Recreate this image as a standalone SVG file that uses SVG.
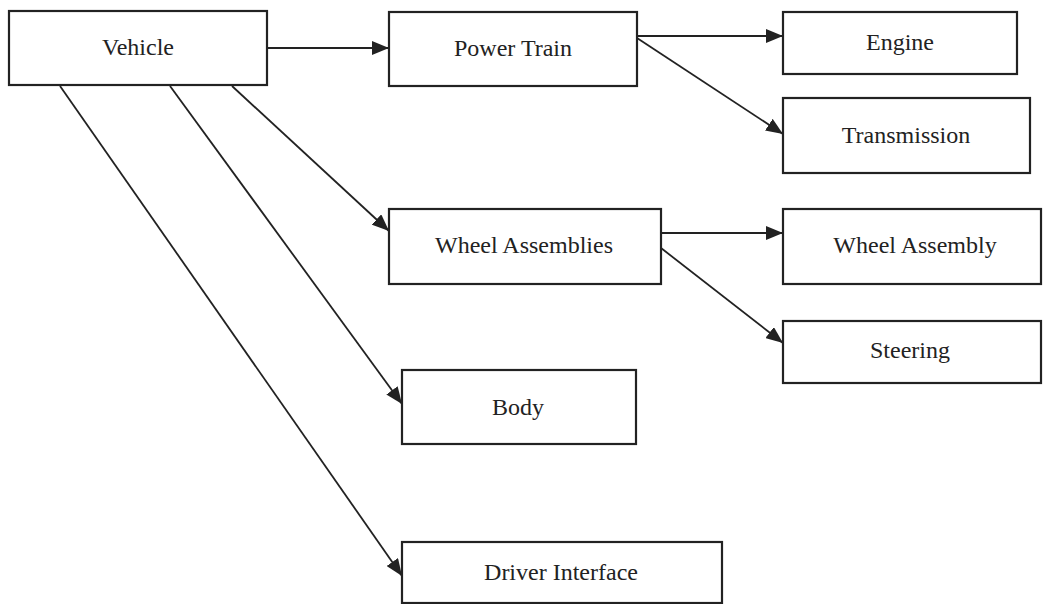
<svg xmlns="http://www.w3.org/2000/svg" width="1045" height="604" viewBox="0 0 1045 604">
<style>
.box{fill:#fff;stroke:#222;stroke-width:2.2}
.lbl{font-family:"Liberation Serif","Times New Roman",serif;font-size:24px;fill:#222;text-anchor:middle}
.con{stroke:#222;stroke-width:1.8;fill:none;marker-end:url(#ah)}
</style>
<defs>
<marker id="ah" markerUnits="userSpaceOnUse" markerWidth="18" markerHeight="14" refX="17" refY="7" orient="auto">
<path d="M0,0 L17,7 L0,14 z" fill="#222"/>
</marker>
</defs>
<rect width="1045" height="604" fill="#fff"/>
<g id="connectors">
<line class="con" x1="267" y1="48" x2="389" y2="48"/>
<line class="con" x1="637" y1="36" x2="783" y2="36"/>
<line class="con" x1="637" y1="38" x2="783" y2="134"/>
<line class="con" x1="232" y1="86" x2="389" y2="231"/>
<line class="con" x1="661" y1="233" x2="783" y2="233"/>
<line class="con" x1="661" y1="248" x2="783" y2="343"/>
<line class="con" x1="170" y1="86" x2="402" y2="404"/>
<line class="con" x1="60" y1="86" x2="402" y2="576"/>
</g>
<g id="vehicle"><rect class="box" x="9" y="11" width="258" height="74"/><text class="lbl" x="138" y="55">Vehicle</text></g>
<g id="power-train"><rect class="box" x="389" y="12" width="248" height="74"/><text class="lbl" x="513" y="56">Power Train</text></g>
<g id="engine"><rect class="box" x="783" y="12" width="234" height="62"/><text class="lbl" x="900" y="50">Engine</text></g>
<g id="transmission"><rect class="box" x="783" y="98" width="247" height="75"/><text class="lbl" x="906" y="143">Transmission</text></g>
<g id="wheel-assemblies"><rect class="box" x="389" y="209" width="272" height="75"/><text class="lbl" x="524" y="253">Wheel Assemblies</text></g>
<g id="wheel-assembly"><rect class="box" x="783" y="209" width="258" height="75"/><text class="lbl" x="915" y="253">Wheel Assembly</text></g>
<g id="steering"><rect class="box" x="783" y="321" width="258" height="62"/><text class="lbl" x="910" y="358">Steering</text></g>
<g id="body"><rect class="box" x="402" y="370" width="234" height="74"/><text class="lbl" x="518" y="415">Body</text></g>
<g id="driver-interface"><rect class="box" x="402" y="542" width="320" height="61"/><text class="lbl" x="561" y="580">Driver Interface</text></g>
</svg>
